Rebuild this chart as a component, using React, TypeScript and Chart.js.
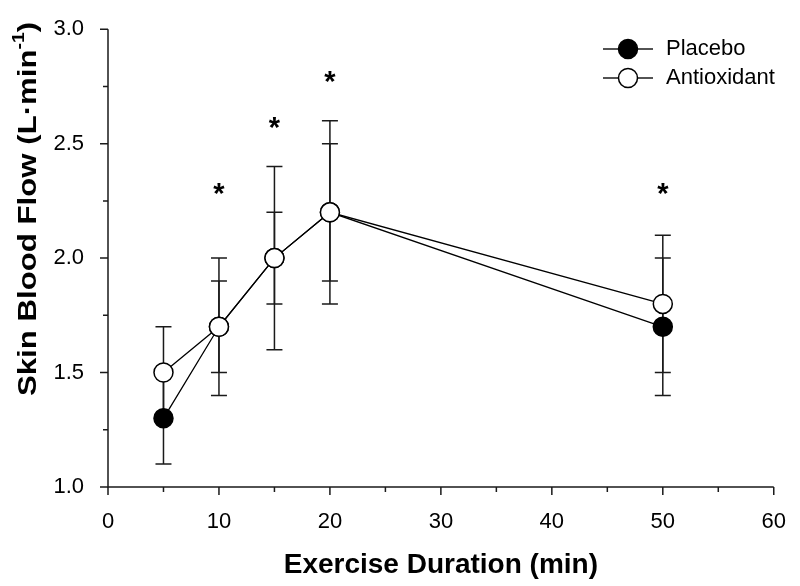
import React, { useEffect, useRef } from "react";
import { Chart, registerables } from "chart.js";

Chart.register(...registerables);

const xValues = [5, 10, 15, 20, 50];
const placebo = [1.3, 1.7, 2.0, 2.2, 1.7];
const placeboErr = [0.2, 0.3, 0.4, 0.4, 0.3];
const antioxidant = [1.5, 1.7, 2.0, 2.2, 1.8];
const antioxidantErr = [0.2, 0.2, 0.2, 0.3, 0.3];
const sigX = [10, 15, 20, 50];
const sigY = [2.27, 2.56, 2.76, 2.27];
const seriesNames = ["Placebo", "Antioxidant"];
const xTitle = "Exercise Duration (min)";
const yTitleMain = "Skin Blood Flow (L·min";
const yTitleSup = "-1";
const yTitleEnd = ")";
const xMajor = [0, 10, 20, 30, 40, 50, 60];
const xMinor = [5, 15, 25, 35, 45, 55];
const yMajor = [1.0, 1.5, 2.0, 2.5, 3.0];
const yMinor = [1.25, 1.75, 2.25, 2.75];

const FONT = "'Liberation Sans', Arial, sans-serif";
const INK = "#1a1a1a";

const customPlugin = {
  id: "custom",
  beforeDatasetsDraw(chart: any) {
    const ctx = chart.ctx;
    const xs = chart.scales.x;
    const ys = chart.scales.y;
    ctx.save();
    ctx.strokeStyle = INK;
    ctx.lineWidth = 1.5;
    const sets = [
      { v: placebo, e: placeboErr },
      { v: antioxidant, e: antioxidantErr },
    ];
    sets.forEach((s) => {
      xValues.forEach((xv, i) => {
        const px = xs.getPixelForValue(xv);
        const t = ys.getPixelForValue(s.v[i] + s.e[i]);
        const b = ys.getPixelForValue(s.v[i] - s.e[i]);
        ctx.beginPath();
        ctx.moveTo(px, t);
        ctx.lineTo(px, b);
        ctx.moveTo(px - 8, t);
        ctx.lineTo(px + 8, t);
        ctx.moveTo(px - 8, b);
        ctx.lineTo(px + 8, b);
        ctx.stroke();
      });
    });
    ctx.restore();
  },
  afterDraw(chart: any) {
    const ctx = chart.ctx;
    const xs = chart.scales.x;
    const ys = chart.scales.y;
    const area = chart.chartArea;
    ctx.save();
    ctx.strokeStyle = INK;
    ctx.lineWidth = 1.5;
    // axes
    ctx.beginPath();
    ctx.moveTo(area.left, area.top);
    ctx.lineTo(area.left, area.bottom);
    ctx.lineTo(area.right, area.bottom);
    ctx.stroke();
    // ticks
    ctx.beginPath();
    yMajor.forEach((v) => {
      const p = ys.getPixelForValue(v);
      ctx.moveTo(area.left, p);
      ctx.lineTo(area.left - 8, p);
    });
    yMinor.forEach((v) => {
      const p = ys.getPixelForValue(v);
      ctx.moveTo(area.left, p);
      ctx.lineTo(area.left - 5, p);
    });
    xMajor.forEach((v) => {
      const p = xs.getPixelForValue(v);
      ctx.moveTo(p, area.bottom);
      ctx.lineTo(p, area.bottom + 8);
    });
    xMinor.forEach((v) => {
      const p = xs.getPixelForValue(v);
      ctx.moveTo(p, area.bottom);
      ctx.lineTo(p, area.bottom + 5);
    });
    ctx.stroke();

    // significance asterisks
    ctx.fillStyle = "#000";
    ctx.font = `bold 29px ${FONT}`;
    ctx.textAlign = "center";
    ctx.textBaseline = "middle";
    sigX.forEach((xv, i) => {
      ctx.fillText("*", xs.getPixelForValue(xv), ys.getPixelForValue(sigY[i]) - 1);
    });

    // x title
    ctx.font = `bold 28px ${FONT}`;
    ctx.textAlign = "center";
    ctx.textBaseline = "middle";
    ctx.fillText(xTitle, (area.left + area.right) / 2, 565);

    // y title with superscript
    ctx.save();
    ctx.translate(27, 209);
    ctx.rotate(-Math.PI / 2);
    ctx.scale(1.2, 1);
    const mainFont = `bold 26px ${FONT}`;
    const supFont = `bold 16px ${FONT}`;
    ctx.font = mainFont;
    const w1 = ctx.measureText(yTitleMain).width;
    const w3 = ctx.measureText(yTitleEnd).width;
    ctx.font = supFont;
    const w2 = ctx.measureText(yTitleSup).width;
    const total = w1 + w2 + w3;
    let x0 = -total / 2;
    ctx.textAlign = "left";
    ctx.textBaseline = "alphabetic";
    ctx.font = mainFont;
    ctx.fillText(yTitleMain, x0, 9);
    x0 += w1;
    ctx.font = supFont;
    ctx.fillText(yTitleSup, x0, -3);
    x0 += w2;
    ctx.font = mainFont;
    ctx.fillText(yTitleEnd, x0, 9);
    ctx.restore();

    // legend
    const legendRows = [
      { name: seriesNames[0], fill: "#000", y: 49 },
      { name: seriesNames[1], fill: "#fff", y: 78 },
    ];
    legendRows.forEach((r) => {
      ctx.beginPath();
      ctx.strokeStyle = INK;
      ctx.lineWidth = 1.5;
      ctx.moveTo(603, r.y);
      ctx.lineTo(653, r.y);
      ctx.stroke();
      ctx.beginPath();
      ctx.arc(628, r.y, 9.5, 0, Math.PI * 2);
      ctx.fillStyle = r.fill;
      ctx.fill();
      ctx.strokeStyle = "#000";
      ctx.stroke();
      ctx.fillStyle = "#000";
      ctx.font = `22px ${FONT}`;
      ctx.textAlign = "left";
      ctx.textBaseline = "middle";
      ctx.fillText(r.name, 666, r.y);
    });
    ctx.restore();
  },
};

export default function App() {
  const ref = useRef<HTMLCanvasElement>(null);
  useEffect(() => {
    document.body.style.margin = "0";
    const canvas = ref.current;
    if (!canvas) return;
    const chart = new Chart(canvas, {
      type: "line",
      data: {
        datasets: [
          {
            label: seriesNames[1],
            data: xValues.map((x, i) => ({ x, y: antioxidant[i] })),
            borderColor: "#000",
            borderWidth: 1.3,
            backgroundColor: "#fff",
            pointBackgroundColor: "#fff",
            pointBorderColor: "#000",
            pointBorderWidth: 1.5,
            pointRadius: 9.5,
            order: 0,
            tension: 0,
          },
          {
            label: seriesNames[0],
            data: xValues.map((x, i) => ({ x, y: placebo[i] })),
            borderColor: "#000",
            borderWidth: 1.3,
            backgroundColor: "#000",
            pointBackgroundColor: "#000",
            pointBorderColor: "#000",
            pointBorderWidth: 1.5,
            pointRadius: 9.5,
            order: 1,
            tension: 0,
          },
        ],
      },
      options: {
        responsive: false,
        animation: false,
        layout: { padding: { top: 15, right: 25, left: 0, bottom: 0 } },
        plugins: {
          legend: { display: false },
          tooltip: { enabled: false },
          title: { display: false },
        },
        scales: {
          x: {
            type: "linear",
            min: 0,
            max: 60,
            grid: { display: false },
            border: { display: false },
            ticks: {
              stepSize: 10,
              color: "#000",
              font: { family: FONT, size: 22 },
              padding: 14,
              maxRotation: 0,
            },
            afterFit: (s: any) => {
              s.height = 99;
            },
          },
          y: {
            type: "linear",
            min: 1,
            max: 3,
            grid: { display: false },
            border: { display: false },
            ticks: {
              stepSize: 0.5,
              color: "#000",
              font: { family: FONT, size: 22 },
              padding: 16,
              callback: (v: any) => Number(v).toFixed(1),
            },
            afterFit: (s: any) => {
              s.width = 108;
            },
          },
        },
      },
      plugins: [customPlugin],
    });
    return () => chart.destroy();
  }, []);
  return (
    <div style={{ width: 800, height: 586 }}>
      <canvas ref={ref} width={800} height={586} />
    </div>
  );
}
